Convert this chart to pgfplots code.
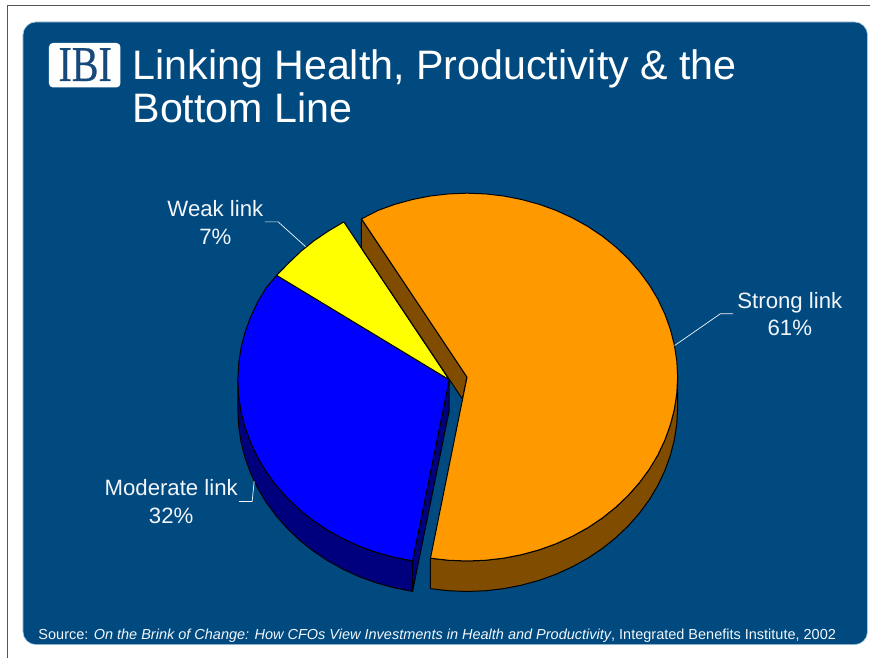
\documentclass[border=0pt]{standalone}
\usepackage{fontspec}
\setmainfont{Liberation Sans}
\newfontfamily\logofont{Liberation Serif}
\usepackage{pgfplots}
\pgfplotsset{compat=1.18}
\definecolor{slidebg}{HTML}{004A80}
\definecolor{slideedge}{HTML}{A5C8DF}
\definecolor{logoblue}{HTML}{17497A}
\definecolor{framegray}{HTML}{555555}
\definecolor{textwhite}{HTML}{F2F6FA}
\definecolor{strongtop}{HTML}{FF9900}
\definecolor{strongside}{HTML}{7F4C00}
\definecolor{modtop}{HTML}{0000FF}
\definecolor{modside}{HTML}{00007F}
\definecolor{weaktop}{HTML}{FFFF00}
\tikzset{
  slice/.style={draw=black, line width=1pt, line join=round},
  leader/.style={draw=textwhite, line width=0.7pt},
  lab/.style={anchor=base, text=textwhite, inner sep=0pt, font=\fontsize{22.2}{24}\selectfont},
}
\begin{document}
\begin{tikzpicture}
\begin{axis}[
  at={(0,0)}, anchor=south west,
  width=870pt, height=658pt, scale only axis,
  xmin=0, xmax=870, ymin=0, ymax=658,
  y dir=reverse, hide axis, clip=false,
]
% page and slide panel
\fill[white] (axis cs:0,0) rectangle (axis cs:870,658);
\draw[framegray, line width=1pt] (axis cs:7.5,658) -- (axis cs:7.5,5.5) -- (axis cs:870,5.5);
\fill[slidebg, draw=slideedge, line width=0.6pt, rounded corners=13pt]
  (axis cs:23,22) rectangle (axis cs:868,645);
% logo
\fill[white, rounded corners=4pt] (axis cs:49,43) rectangle (axis cs:120.5,87.5);
\node[anchor=base, inner sep=0pt, text=logoblue] at (axis cs:85.2,81)
  {\scalebox{0.8}[1]{\logofont\fontsize{50}{50}\selectfont\addfontfeature{FakeBold=0.6} IBI}};
% heading
\node[anchor=base west, inner sep=0pt, text=white, font=\fontsize{41.2}{42}\selectfont]
  at (axis cs:132.5,80) {Linking Health, Productivity \& the};
\node[anchor=base west, inner sep=0pt, text=white, font=\fontsize{41.2}{42}\selectfont]
  at (axis cs:132.5,122.7) {Bottom Line};

% Moderate link 32%: outer rim
\addplot[slice, fill=modside] coordinates {
(238,380)(238.8,396)(241.2,412)(245.2,427.6)(250.8,442.9)(257.8,457.8)(266.3,472)
(276.2,485.5)(287.5,498.3)(299.9,510.1)(313.6,521)(328.2,530.7)(343.7,539.3)(360.1,546.8)
(377.2,552.9)(394.8,557.7)(412.8,561.2)
(412.8,591.7)(394.8,588.2)(377.2,583.4)(360.1,577.3)(343.7,569.8)(328.2,561.2)(313.6,551.5)
(299.9,540.6)(287.5,528.8)(276.2,516)(266.3,502.5)(257.8,488.3)(250.8,473.4)(245.2,458.1)
(241.2,442.5)(238.8,426.5)(238,410.5)
} -- cycle;
% Moderate link 32%: cut face
\addplot[slice, fill=modside] coordinates {
(449.5,380)(449.5,410.5)(412.8,591.7)(412.8,561.2)
} -- cycle;
% Moderate link 32%: top
\addplot[slice, fill=modtop] coordinates {
(449.5,380)(276.8,275.5)(266.3,288)(257.8,302.2)(250.8,317.1)(245.2,332.4)(241.2,348)(238.8,364)
(238,380)(238.8,396)(241.2,412)(245.2,427.6)(250.8,442.9)(257.8,457.8)(266.3,472)
(276.2,485.5)(287.5,498.3)(299.9,510.1)(313.6,521)(328.2,530.7)(343.7,539.3)(360.1,546.8)
(377.2,552.9)(394.8,557.7)(412.8,561.2)
} -- cycle;
% Weak link 7%: top
\addplot[slice, fill=weaktop] coordinates {
(449.5,380)(344,222)(329.4,230.7)(314.9,240.4)(301.4,251.2)(289.1,262.9)(276.8,275.5)
} -- cycle;
% Strong link 61%: cut face
\addplot[slice, fill=strongside] coordinates {
(361.7,219)(361.7,248.3)(462.7,399.3)(467.3,377.3)
} -- cycle;
% Strong link 61%: outer rim
\addplot[slice, fill=strongside] coordinates {
(678,377.3)(677.2,393.3)(674.8,409.3)(670.8,424.9)(665.3,440.2)(658.3,455.1)(649.8,469.3)
(639.9,482.8)(628.7,495.6)(616.3,507.4)(602.7,518.3)(588.2,528)(572.7,536.6)(556.3,544.1)
(539.4,550.2)(521.8,555)(503.9,558.5)(485.7,560.6)(467.3,561.3)(448.9,560.6)(430.7,558.5)
(430.7,589)(448.9,591.1)(467.3,591.8)(485.7,591.1)(503.9,589)(521.8,585.5)(539.4,580.7)
(556.3,574.6)(572.7,567.1)(588.2,558.5)(602.7,548.8)(616.3,537.9)(628.7,526.1)(639.9,513.3)
(649.8,499.8)(658.3,485.6)(665.3,470.7)(670.8,455.4)(674.8,439.8)(677.2,423.8)(678,407.8)
} -- cycle;
% Strong link 61%: top
\addplot[slice, fill=strongtop] coordinates {
(467.3,377.3)(361.7,219)(378.3,210.5)(395.2,204.4)(412.8,199.6)(430.7,196.1)(448.9,194)
(467.3,193.3)(485.7,194)(503.9,196.1)(521.8,199.6)(539.4,204.4)(556.3,210.5)(572.7,218)
(588.2,226.6)(602.7,236.3)(616.3,247.2)(628.7,259)(639.9,271.8)(649.8,285.3)(658.3,299.5)
(665.3,314.4)(670.8,329.7)(674.8,345.3)(677.2,361.3)(678,377.3)(677.2,393.3)(674.8,409.3)
(670.8,424.9)(665.3,440.2)(658.3,455.1)(649.8,469.3)(639.9,482.8)(628.7,495.6)(616.3,507.4)
(602.7,518.3)(588.2,528)(572.7,536.6)(556.3,544.1)(539.4,550.2)(521.8,555)(503.9,558.5)
(485.7,560.6)(467.3,561.3)(448.9,560.6)(430.7,558.5)
} -- cycle;

% leader lines
\addplot[leader] coordinates {(675,345.7)(720.7,314)(733.3,314)};
\addplot[leader] coordinates {(265,222)(278.3,222)(305.7,246.7)};
\addplot[leader] coordinates {(239.3,501.7)(252.3,501.7)(254.3,481.7)};

% slice labels
\node[lab] at (axis cs:790.3,308.3) {Strong link};
\node[lab] at (axis cs:790.3,336) {61\%};
\node[lab] at (axis cs:215.5,216.7) {Weak link};
\node[lab] at (axis cs:215.5,244.3) {7\%};
\node[lab] at (axis cs:171.3,495.7) {Moderate link};
\node[lab] at (axis cs:171.3,524) {32\%};

% source line
\node[anchor=base west, inner sep=0pt, text=textwhite, font=\fontsize{14.5}{16}\selectfont]
  at (axis cs:38.3,640) {Source: \textit{On the Brink of Change: How CFOs View Investments in Health and Productivity}, Integrated Benefits Institute, 2002};
\end{axis}
\end{tikzpicture}
\end{document}
